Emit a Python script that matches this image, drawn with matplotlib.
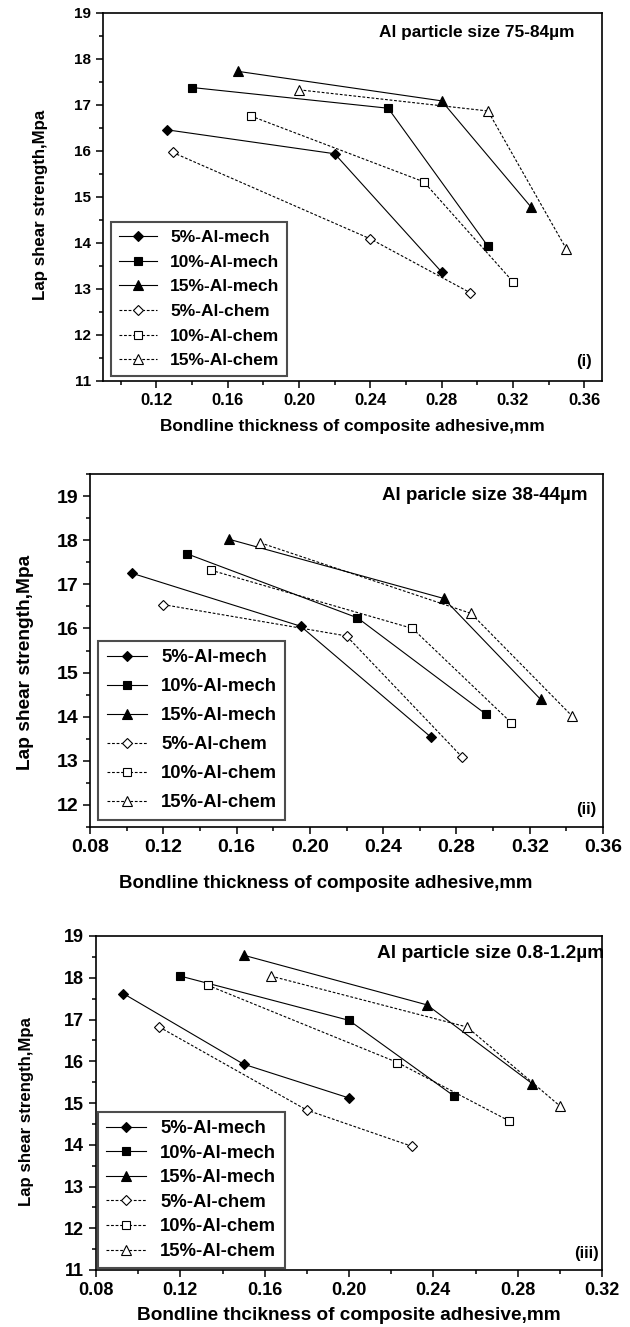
import matplotlib
matplotlib.use("Agg")
import matplotlib.pyplot as plt
from matplotlib.ticker import MultipleLocator

plt.rcParams['font.family'] = ['Liberation Sans', 'DejaVu Sans']
plt.rcParams['font.weight'] = 'bold'

labels = ['5%-Al-mech', '10%-Al-mech', '15%-Al-mech',
          '5%-Al-chem', '10%-Al-chem', '15%-Al-chem']

# Panel (i): Al particle size 75-84 um
x1 = [[0.126, 0.220, 0.280],
      [0.140, 0.250, 0.306],
      [0.166, 0.280, 0.330],
      [0.129, 0.240, 0.296],
      [0.173, 0.270, 0.320],
      [0.200, 0.306, 0.350]]
y1 = [[16.46, 15.94, 13.37],
      [17.38, 16.93, 13.93],
      [17.73, 17.09, 14.79],
      [15.97, 14.09, 12.92],
      [16.76, 15.33, 13.16],
      [17.33, 16.87, 13.87]]

# Panel (ii): Al particle size 38-44 um
x2 = [[0.103, 0.195, 0.266],
      [0.133, 0.226, 0.296],
      [0.156, 0.273, 0.326],
      [0.120, 0.220, 0.283],
      [0.146, 0.256, 0.310],
      [0.173, 0.288, 0.343]]
y2 = [[17.25, 16.05, 13.54],
      [17.69, 16.24, 14.06],
      [18.02, 16.68, 14.39],
      [16.54, 15.83, 13.09],
      [17.32, 16.00, 13.86],
      [17.94, 16.34, 14.02]]

# Panel (iii): Al particle size 0.8-1.2 um
x3 = [[0.093, 0.150, 0.200],
      [0.120, 0.200, 0.250],
      [0.150, 0.237, 0.287],
      [0.110, 0.180, 0.230],
      [0.133, 0.223, 0.276],
      [0.163, 0.256, 0.300]]
y3 = [[17.62, 15.93, 15.12],
      [18.04, 16.98, 15.16],
      [18.54, 17.35, 15.46],
      [16.82, 14.83, 13.96],
      [17.82, 15.97, 14.57],
      [18.04, 16.82, 14.93]]

markers = ['D', 's', '^', 'D', 's', '^']
msizes = [5, 5.5, 6.5, 5, 5.5, 6.5]


def draw_panel(ax, xs, ys, xlim, ylim, yticks, xticks, title, title_pos,
               tag, tag_pos, xlabel, xlab_pos, ylab_pos, leg_pos, fs):
    # fs = (xtick, ytick, xlabel, ylabel, title, legend, labelspacing)
    for i in range(6):
        mech = i < 3
        ax.plot(xs[i], ys[i], color='black', lw=0.8,
                linestyle='-' if mech else (0, (2.5, 1.6)),
                marker=markers[i], markersize=msizes[i],
                markerfacecolor='black' if mech else 'white',
                markeredgecolor='black', markeredgewidth=0.8,
                label=labels[i])
    ax.set_xlim(xlim)
    ax.set_ylim(ylim)
    ax.set_xticks(xticks)
    ax.set_xticklabels(['%.2f' % t for t in xticks])
    ax.set_yticks(yticks)
    ax.xaxis.set_minor_locator(MultipleLocator(0.02))
    ax.yaxis.set_minor_locator(MultipleLocator(0.5))
    ax.tick_params(which='major', direction='out', length=5, width=1.1)
    ax.tick_params(which='minor', direction='out', length=3, width=1.1)
    ax.tick_params(axis='x', which='major', labelsize=fs[0])
    ax.tick_params(axis='y', which='major', labelsize=fs[1])
    for sp in ax.spines.values():
        sp.set_linewidth(1.2)
    ax.set_xlabel(xlabel, fontsize=fs[2], fontweight='bold', va='center')
    ax.set_ylabel('Lap shear strength,Mpa', fontsize=fs[3],
                  fontweight='bold', va='center')
    ax.xaxis.set_label_coords(*xlab_pos)
    ax.yaxis.set_label_coords(*ylab_pos)
    ax.text(title_pos[0], title_pos[1], title, transform=ax.transAxes,
            ha='right', va='center', fontsize=fs[4], fontweight='bold')
    ax.text(tag_pos[0], tag_pos[1], tag, transform=ax.transAxes,
            ha='right', va='center', fontsize=12, fontweight='bold')
    leg = ax.legend(loc='lower left', bbox_to_anchor=leg_pos,
                    borderaxespad=0, fontsize=fs[5], fancybox=False,
                    handlelength=2.2, handletextpad=0.75,
                    labelspacing=fs[6], borderpad=0.45, numpoints=1,
                    framealpha=1)
    leg.get_frame().set_edgecolor('0.3')
    leg.get_frame().set_linewidth(1.5)


fig = plt.figure(figsize=(6.3, 13.27), dpi=100)
H = 1327.0
W = 630.0

ax1 = fig.add_axes([103 / W, 1 - 381 / H, 499 / W, 368 / H])
draw_panel(ax1, x1, y1, (0.09, 0.37), (11, 19), range(11, 20),
           [0.12, 0.16, 0.20, 0.24, 0.28, 0.32, 0.36],
           'Al particle size 75-84µm', (0.944, 0.946),
           '(i)', (0.98, 0.054),
           'Bondline thickness of composite adhesive,mm',
           (0.50, -0.125), (-0.126, 0.478),
           (0.016, 0.013), (12, 11, 12.4, 12.2, 12.4, 12.5, 0.55))

ax2 = fig.add_axes([90 / W, 1 - 827 / H, 513 / W, 353 / H])
draw_panel(ax2, x2, y2, (0.08, 0.36), (11.5, 19.5), range(12, 20),
           [0.08, 0.12, 0.16, 0.20, 0.24, 0.28, 0.32, 0.36],
           'Al paricle size 38-44µm', (0.969, 0.939),
           '(ii)', (0.987, 0.049),
           'Bondline thickness of composite adhesive,mm',
           (0.46, -0.159), (-0.125, 0.467),
           (0.016, 0.021), (14, 14, 13.4, 13.8, 13.5, 13.3, 0.65))

ax3 = fig.add_axes([96 / W, 1 - 1270 / H, 506 / W, 334 / H])
draw_panel(ax3, x3, y3, (0.08, 0.32), (11, 19), range(11, 20),
           [0.08, 0.12, 0.16, 0.20, 0.24, 0.28, 0.32],
           'Al particle size 0.8-1.2µm', (1.004, 0.947),
           '(iii)', (0.994, 0.048),
           'Bondline thcikness of composite adhesive,mm',
           (0.50, -0.135), (-0.138, 0.473),
           (0.003, 0.005), (13, 13, 13.7, 12.1, 13.8, 13.3, 0.41))

fig.savefig('out.png', dpi=100)
